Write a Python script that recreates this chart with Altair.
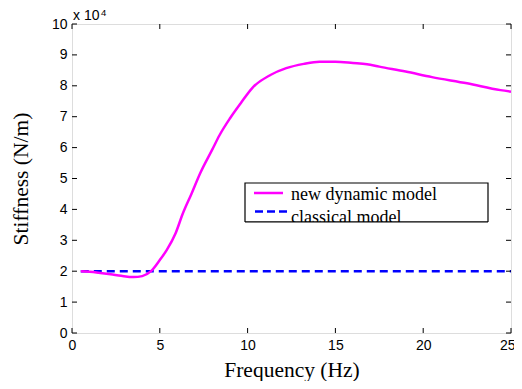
import altair as alt
import pandas as pd

# Data (stiffness in units of 1e4 N/m)
freq_new = [0.5, 1.0, 1.5, 2.2, 2.8, 3.5, 4.0, 4.5, 5.0, 5.4, 5.9, 6.3, 6.8, 7.3, 8.0, 8.4,
            9.0, 9.6, 10.3, 11.3, 12.2, 13.2, 14.1, 15.0, 16.0, 16.8, 17.5, 19.0, 20.5,
            22.5, 24.4, 25.0]
stiff_new = [2.0, 1.98, 1.95, 1.90, 1.85, 1.81, 1.84, 2.0, 2.36, 2.69, 3.23, 3.85, 4.5, 5.17,
             5.95, 6.4, 6.95, 7.43, 7.95, 8.35, 8.57, 8.71, 8.78, 8.78, 8.74, 8.70, 8.62,
             8.46, 8.28, 8.08, 7.86, 7.81]
freq_classical = [0.5, 25.0]
stiff_classical = [2.0, 2.0]
x_ticks = [0, 5, 10, 15, 20, 25]
y_ticks = [0, 1, 2, 3, 4, 5, 6, 7, 8, 9, 10]
legend_labels = ["new dynamic model", "classical model"]

W, H = 439, 309
TL = 5

df_new = pd.DataFrame({"f": freq_new, "k": stiff_new})
df_cls = pd.DataFrame({"f": freq_classical, "k": stiff_classical})
df_xt = pd.DataFrame({"f": x_ticks})
df_yt = pd.DataFrame({"k": y_ticks})

xs = alt.Scale(domain=[0, 25], nice=False)
ys = alt.Scale(domain=[0, 10], nice=False)

xaxis = alt.Axis(values=x_ticks, ticks=False, domain=False, grid=False,
                 labelFlush=1, labelFlushOffset=4, labelOverlap=False,
                 labelFont="Liberation Sans", labelFontSize=14, labelColor="black",
                 labelPadding=5, title="Frequency (Hz)", titleFont="Liberation Serif",
                 titleFontSize=21.5, titleFontWeight="normal", titleColor="black",
                 titlePadding=7)
yaxis = alt.Axis(values=y_ticks, ticks=False, domain=False, grid=False,
                 labelFlush=False, labelOverlap=False,
                 labelFont="Liberation Sans", labelFontSize=14, labelColor="black",
                 labelPadding=5, title="Stiffness  (N/m)", titleFont="Liberation Serif",
                 titleFontSize=21.5, titleFontWeight="normal", titleColor="black",
                 titlePadding=19)

X = alt.X("f:Q", scale=xs, axis=xaxis)
Y = alt.Y("k:Q", scale=ys, axis=yaxis)

base_lines = alt.Chart(df_cls).mark_line(color="#0000FF", strokeWidth=2.5,
                                         strokeDash=[8, 5]).encode(x=X, y=Y)
new_line = alt.Chart(df_new).mark_line(color="#FF00FF", strokeWidth=2.5,
                                       interpolate="monotone").encode(x=X, y=Y)

bt = alt.Chart(df_xt).mark_rule(color="black", strokeWidth=1).encode(
    x=X, y=alt.value(H), y2=alt.value(H - TL))
tt = alt.Chart(df_xt).mark_rule(color="black", strokeWidth=1).encode(
    x=X, y=alt.value(0), y2=alt.value(TL))
lt = alt.Chart(df_yt).mark_rule(color="black", strokeWidth=1).encode(
    y=Y, x=alt.value(0), x2=alt.value(TL))
rt = alt.Chart(df_yt).mark_rule(color="black", strokeWidth=1).encode(
    y=Y, x=alt.value(W), x2=alt.value(W - TL))

# exponent label
exp_base = alt.Chart(pd.DataFrame({"t": ["x 10"]})).mark_text(
    font="Liberation Sans", fontSize=14, align="left", baseline="alphabetic",
    color="black").encode(text="t:N", x=alt.value(1), y=alt.value(-4))
exp_sup = alt.Chart(pd.DataFrame({"t": ["4"]})).mark_text(
    font="Liberation Sans", fontSize=9.5, align="left", baseline="alphabetic",
    color="black").encode(text="t:N", x=alt.value(29), y=alt.value(-8.5))

# legend (box, samples, labels)
LX0, LY0, LX1, LY1 = 173, 159, 416, 198
leg_box = alt.Chart(pd.DataFrame({"a": [0]})).mark_rect(
    fill="white", stroke="black", strokeWidth=1.2).encode(
    x=alt.value(LX0), x2=alt.value(LX1), y=alt.value(LY0), y2=alt.value(LY1))
leg_l1 = alt.Chart(pd.DataFrame({"a": [0]})).mark_rule(
    color="#FF00FF", strokeWidth=2.5).encode(
    x=alt.value(182), x2=alt.value(211), y=alt.value(169))
leg_l2 = alt.Chart(pd.DataFrame({"a": [0]})).mark_rule(
    color="#0000FF", strokeWidth=2.5, strokeDash=[8, 4]).encode(
    x=alt.value(183), x2=alt.value(218), y=alt.value(187.5))
leg_t1 = alt.Chart(pd.DataFrame({"t": [legend_labels[0]]})).mark_text(
    font="Liberation Serif", fontSize=18, align="left", baseline="alphabetic",
    color="black").encode(text="t:N", x=alt.value(219), y=alt.value(176))
leg_t2 = alt.Chart(pd.DataFrame({"t": [legend_labels[1]]})).mark_text(
    font="Liberation Serif", fontSize=18, align="left", baseline="alphabetic",
    color="black").encode(text="t:N", x=alt.value(219), y=alt.value(199))
# cover below legend box to clip text
leg_clip = alt.Chart(pd.DataFrame({"a": [0]})).mark_rect(fill="white").encode(
    x=alt.value(LX0 - 1), x2=alt.value(LX1 + 1), y=alt.value(LY1), y2=alt.value(LY1 + 6))
leg_edge = alt.Chart(pd.DataFrame({"a": [0]})).mark_rule(
    color="black", strokeWidth=1.2).encode(
    x=alt.value(LX0), x2=alt.value(LX1), y=alt.value(LY1))

chart = alt.layer(
    base_lines, new_line, bt, tt, lt, rt, exp_base, exp_sup,
    leg_box, leg_l1, leg_l2, leg_t1, leg_t2, leg_clip, leg_edge
).properties(
    width=W, height=H,
    autosize=alt.AutoSizeParams(type="none"),
    padding={"left": 64, "top": 16, "right": 3, "bottom": 48},
).configure_view(stroke="black", strokeWidth=1.5).configure(background="white")

chart.save("out.html", embed_options={"renderer": "svg", "actions": False})
